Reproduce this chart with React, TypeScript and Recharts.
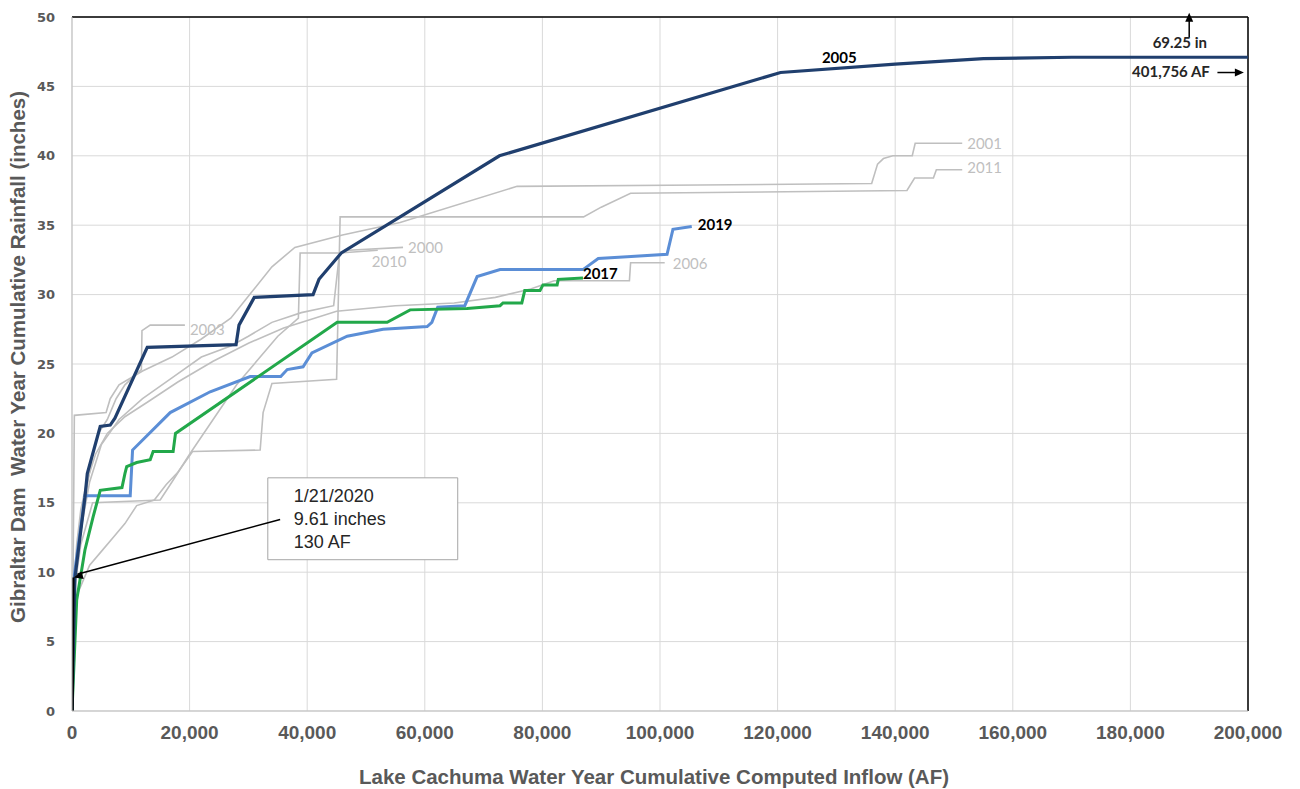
import React from "react";
import { LineChart, Line, XAxis, YAxis, CartesianGrid, ReferenceLine, ReferenceDot, ReferenceArea } from "recharts";

// [AF, inches] pairs
const wy2005: [number, number][] = [
  [0, 0], [500, 9.6], [2200, 15.4], [2600, 17.1], [4800, 20.5], [6500, 20.6], [7300, 21.1],
  [12800, 26.2], [27900, 26.4], [28400, 27.8], [31000, 29.8], [41000, 30.0], [42000, 31.1],
  [45800, 33.0], [55800, 35.6], [72700, 40.0], [120500, 46.0], [140000, 46.6], [155000, 47.0],
  [170000, 47.1], [200000, 47.1],
];
const wy2019: [number, number][] = [
  [0, 0], [400, 9.8], [2200, 15.5], [9900, 15.5], [10300, 18.8], [16700, 21.5], [23500, 23.0],
  [30300, 24.1], [35500, 24.1], [36600, 24.6], [39300, 24.8], [40800, 25.8], [46800, 27.0],
  [52900, 27.5], [60400, 27.7], [61200, 28.0], [62200, 29.1], [66800, 29.2], [68900, 31.3],
  [72800, 31.8], [86900, 31.8], [89500, 32.6], [101200, 32.9], [102200, 34.7], [105400, 34.9],
];
const wy2017: [number, number][] = [
  [0, 0], [400, 4.0], [800, 8.0], [2200, 11.6], [3600, 14.0], [4800, 15.9], [8500, 16.1],
  [9000, 17.1], [9300, 17.6], [11000, 17.9], [13300, 18.1], [13800, 18.7], [17200, 18.7],
  [17600, 20.0], [45100, 28.0], [53600, 28.0], [57500, 28.9], [67200, 29.0], [72800, 29.2],
  [73300, 29.4], [76500, 29.4], [77000, 30.3], [79600, 30.3], [80100, 30.7], [82500, 30.7],
  [82700, 31.1], [86900, 31.2],
];
const wy2020: [number, number][] = [[0, 0], [130, 9.61]];

const wy2000: [number, number][] = [
  [0, 0], [500, 9.5], [1500, 13], [3000, 16.5], [5000, 19.2], [8000, 21], [12000, 22.5],
  [17000, 24], [22000, 25.5], [27000, 26.3], [30000, 27], [34000, 28], [39000, 28.7],
  [44500, 29.2], [45500, 33.0], [47000, 33.2], [56300, 33.4],
];
const wy2001: [number, number][] = [
  [0, 0], [400, 21.3], [5800, 21.5], [6500, 22.5], [8000, 23.5], [12000, 24.5], [17000, 25.5],
  [22000, 26.8], [27000, 28.3], [30600, 30.2], [34000, 32], [37900, 33.4], [46000, 34.3],
  [55800, 35.2], [75700, 37.8], [106800, 37.9], [136000, 38.0], [137000, 39.4], [138000, 39.8],
  [139600, 40.0], [142900, 40.0], [143400, 40.9], [151400, 40.9],
];
const wy2003: [number, number][] = [
  [0, 0], [300, 8.5], [800, 11], [1500, 13.5], [2500, 16], [3500, 18.5], [4500, 20],
  [6000, 21], [7500, 22.5], [9000, 23.5], [11800, 24.6], [11900, 27.4], [13300, 27.8], [19200, 27.8],
];
const wy2006: [number, number][] = [
  [0, 0], [300, 9], [800, 12], [1500, 14.5], [2500, 16.5], [4000, 18.5], [6000, 20],
  [9000, 21.2], [13000, 22.3], [18000, 23.7], [24000, 25.2], [30000, 26.5], [36000, 27.6],
  [45000, 28.8], [55000, 29.2], [65000, 29.4], [72000, 29.8], [78000, 30.4], [82000, 31.0],
  [94800, 31.0], [95000, 32.3], [100800, 32.3],
];
const wy2010: [number, number][] = [
  [0, 0], [500, 9], [1500, 12], [3500, 15.0], [15000, 15.2], [17000, 16.5], [20000, 18.5],
  [24000, 21], [28000, 23.5], [32000, 25.5], [35000, 27], [38500, 28.3], [38800, 33.0],
  [45500, 33.0], [52000, 33.2],
];
const wy2011: [number, number][] = [
  [0, 0], [800, 8.3], [2000, 9.5], [3000, 10.5], [5000, 11.5], [7000, 12.5], [9000, 13.5],
  [11000, 14.8], [14000, 15.2], [16000, 16.3], [18000, 17.2], [20500, 18.7], [32000, 18.8],
  [32500, 21.5], [34000, 23.6], [45000, 23.9], [45600, 35.6], [87000, 35.6], [90000, 36.3],
  [95000, 37.3], [142000, 37.5], [143300, 38.4], [146500, 38.4], [147000, 39.0], [151400, 39.0],
];

const xTicks = [0, 20000, 40000, 60000, 80000, 100000, 120000, 140000, 160000, 180000, 200000];
const yTicks = [0, 5, 10, 15, 20, 25, 30, 35, 40, 45, 50];

const grayYears = [
  { name: "2000", pts: wy2000, dx: 5, dy: 0 },
  { name: "2001", pts: wy2001, dx: 5, dy: 0 },
  { name: "2003", pts: wy2003, dx: 5, dy: 4 },
  { name: "2006", pts: wy2006, dx: 8, dy: 0 },
  { name: "2010", pts: wy2010, dx: -6, dy: 11 },
  { name: "2011", pts: wy2011, dx: 5, dy: -3 },
];

const toRows = (pts: [number, number][]) => pts.map(([x, y]) => ({ x, y }));
const last = (pts: [number, number][]) => pts[pts.length - 1];

const GRAY = "#BFBFBF";
const NAVY = "#203F6E";
const BLUE = "#5B8ED6";
const GREEN = "#22A84A";
const AXIS_TXT = "#595959";
const LABEL_FONT = "Lato, 'Open Sans', sans-serif";

function textLabel(text: string, dx: number, dy: number, color: string, bold: boolean, anchor = "start") {
  return (p: any) => {
    const vb = p.viewBox || {};
    return (
      <text
        x={vb.x + dx}
        y={vb.y + dy}
        fill={color}
        fontFamily={LABEL_FONT}
        fontSize={15}
        fontWeight={bold ? 700 : 400}
        textAnchor={anchor}
        dominantBaseline="central"
      >
        {text}
      </text>
    );
  };
}

function arrowHead(angleDeg: number) {
  return (p: any) => {
    const { cx, cy } = p;
    return (
      <polygon
        points="0,0 -9,-4 -9,4"
        fill="#000"
        transform={`translate(${cx},${cy}) rotate(${angleDeg})`}
      />
    );
  };
}

function noteBox(p: any) {
  const vb = p.viewBox || {};
  const lines = ["1/21/2020", "9.61 inches", "130 AF"];
  return (
    <g>
      {lines.map((t, i) => (
        <text
          key={t}
          x={vb.x + 26}
          y={vb.y + 18 + i * 23}
          fill="#262626"
          fontFamily="'Liberation Sans', Arial, sans-serif"
          fontSize={18}
          dominantBaseline="central"
        >
          {t}
        </text>
      ))}
    </g>
  );
}

export default function App() {
  const end2019 = last(wy2019);
  const end2017 = last(wy2017);
  const end2020 = last(wy2020);
  return (
    <div style={{ position: "absolute", left: 0, top: 0, width: 1300, height: 789, background: "#fff" }}>
      <LineChart width={1300} height={789} margin={{ top: 17, right: 52, bottom: 48, left: 22 }}>
        <CartesianGrid stroke="#D9D9D9" strokeWidth={1} />
        <XAxis
          type="number"
          dataKey="x"
          domain={[0, 200000]}
          ticks={xTicks}
          height={30}
          tickLine={false}
          stroke="#BFBFBF"
          tickMargin={9}
          tick={{ fill: AXIS_TXT, fontSize: 19, fontWeight: 700, fontFamily: "'Liberation Sans', Arial, sans-serif" }}
          tickFormatter={(v: number) => v.toLocaleString("en-US")}
          allowDataOverflow
        />
        <YAxis
          type="number"
          domain={[0, 50]}
          ticks={yTicks}
          width={50}
          tickLine={false}
          stroke="#BFBFBF"
          tickMargin={11}
          tick={{ fill: AXIS_TXT, fontSize: 13, fontWeight: 700, fontFamily: "'DejaVu Sans', Verdana, sans-serif" }}
          allowDataOverflow
        />
        <ReferenceLine y={50} stroke="#000" strokeWidth={1.5} />
        <ReferenceLine x={200000} stroke="#000" strokeWidth={1.5} />

        {grayYears.map((g) => (
          <Line
            key={g.name}
            data={toRows(g.pts)}
            dataKey="y"
            type="linear"
            stroke={GRAY}
            strokeWidth={1.6}
            dot={false}
            isAnimationActive={false}
          />
        ))}
        <Line data={toRows(wy2019)} dataKey="y" type="linear" stroke={BLUE} strokeWidth={3} dot={false} isAnimationActive={false} />
        <Line data={toRows(wy2017)} dataKey="y" type="linear" stroke={GREEN} strokeWidth={3} dot={false} isAnimationActive={false} />
        <Line data={toRows(wy2005)} dataKey="y" type="linear" stroke={NAVY} strokeWidth={3.2} dot={false} isAnimationActive={false} />
        <Line data={toRows(wy2020)} dataKey="y" type="linear" stroke="#000" strokeWidth={3.5} dot={false} isAnimationActive={false} />

        {grayYears.map((g) => {
          const [x, y] = last(g.pts);
          return (
            <ReferenceDot key={"l" + g.name} x={x} y={y} r={0} stroke="none" fill="none"
              label={textLabel(g.name, g.dx, g.dy, GRAY, false)} />
          );
        })}
        <ReferenceDot x={end2019[0]} y={end2019[1]} r={0} stroke="none" fill="none"
          label={textLabel("2019", 6, -3, "#000", true)} />
        <ReferenceDot x={end2017[0]} y={end2017[1]} r={0} stroke="none" fill="none"
          label={textLabel("2017", 0, -5, "#000", true)} />
        <ReferenceDot x={130500} y={46.4} r={0} stroke="none" fill="none"
          label={textLabel("2005", 0, -10, "#000", true, "middle")} />

        {/* off-scale totals for WY2005 */}
        <ReferenceLine segment={[{ x: 190000, y: 48.55 }, { x: 190000, y: 50.1 }]} stroke="#000" strokeWidth={1.5} ifOverflow="visible" />
        <ReferenceDot x={190000} y={50.3} r={0} ifOverflow="visible" shape={arrowHead(-90)} />
        <ReferenceDot x={188400} y={48.2} r={0} stroke="none" fill="none" ifOverflow="visible"
          label={textLabel("69.25 in", 0, 0, "#262626", true, "middle")} />
        <ReferenceDot x={186900} y={46.1} r={0} stroke="none" fill="none" ifOverflow="visible"
          label={textLabel("401,756 AF", 0, 0, "#262626", true, "middle")} />
        <ReferenceLine segment={[{ x: 194800, y: 46.0 }, { x: 198500, y: 46.0 }]} stroke="#000" strokeWidth={1.5} ifOverflow="visible" />
        <ReferenceDot x={199300} y={46.0} r={0} ifOverflow="visible" shape={arrowHead(0)} />

        {/* 1/21/2020 callout */}
        <ReferenceLine segment={[{ x: 35400, y: 13.8 }, { x: 900, y: 9.85 }]} stroke="#000" strokeWidth={1.5} />
        <ReferenceDot x={end2020[0] + 200} y={end2020[1]} r={0} shape={arrowHead(164)} />
        <ReferenceArea x1={33300} x2={65600} y1={10.9} y2={16.8} fill="#fff" fillOpacity={1}
          stroke="#A6A6A6" strokeWidth={1} label={noteBox} />
      </LineChart>

      <div
        style={{
          position: "absolute",
          left: 18,
          top: 357,
          transform: "translate(-50%, -50%) rotate(-90deg)",
          whiteSpace: "pre",
          fontFamily: "'Liberation Sans', Arial, sans-serif",
          fontWeight: 700,
          fontSize: 20.5,
          color: AXIS_TXT,
        }}
      >
        {"Gibraltar Dam  Water Year Cumulative Rainfall (inches)"}
      </div>
      <div
        style={{
          position: "absolute",
          left: 654,
          top: 777,
          transform: "translate(-50%, -50%)",
          whiteSpace: "pre",
          fontFamily: "'Liberation Sans', Arial, sans-serif",
          fontWeight: 700,
          fontSize: 20.5,
          color: AXIS_TXT,
        }}
      >
        Lake Cachuma Water Year Cumulative Computed Inflow (AF)
      </div>
    </div>
  );
}
